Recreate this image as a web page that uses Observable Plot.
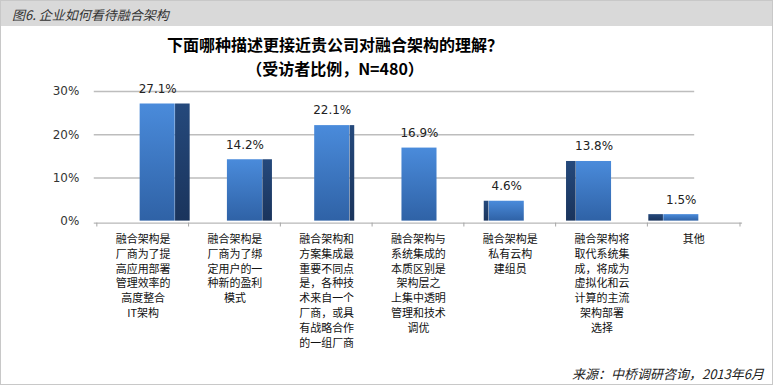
<!DOCTYPE html>
<html>
<head>
<meta charset="utf-8">
<script src="https://cdn.jsdelivr.net/npm/d3@7"></script>
<script src="https://cdn.jsdelivr.net/npm/@observablehq/plot@0.6"></script>
<style>
  html, body { margin: 0; padding: 0; background: #fff; }
  #wrap { position: relative; width: 771px; height: 383px; border: 1px solid #c8c8c8; overflow: hidden; font-family: "Noto Sans CJK SC", "Noto Sans", sans-serif; }
  #header { position: absolute; left: 0; top: 0; width: 100%; height: 25px; background: #d9d9d9; }
  #header span { position: absolute; left: 11px; top: 4px; font-size: 13px; font-style: italic; color: #333; }
  .title { position: absolute; left: 0; width: 668px; text-align: center; font-weight: bold; font-size: 16px; color: #000; line-height: 18px; }
  #caption { position: absolute; right: 8px; top: 363px; font-size: 13px; font-style: italic; color: #222; }
  #chart { position: absolute; left: 0; top: 75px; }
</style>
</head>
<body>
<div id="wrap">
  <div id="header"><span>图6. 企业如何看待融合架构</span></div>
  <div class="title" style="top:34px">下面哪种描述更接近贵公司对融合架构的理解？</div>
  <div class="title" style="top:58px">（受访者比例，N=480）</div>
  <div id="chart"></div>
  <div id="caption">来源：中桥调研咨询，2013年6月</div>
</div>
<script>
const categories = [
  "融合架构是\n厂商为了提\n高应用部署\n管理效率的\n高度整合\nIT架构",
  "融合架构是\n厂商为了绑\n定用户的一\n种新的盈利\n模式",
  "融合架构和\n方案集成最\n重要不同点\n是，各种技\n术来自一个\n厂商，或具\n有战略合作\n的一组厂商",
  "融合架构与\n系统集成的\n本质区别是\n架构层之\n上集中透明\n管理和技术\n调优",
  "融合架构是\n私有云构\n建组员",
  "融合架构将\n取代系统集\n成，将成为\n虚拟化和云\n计算的主流\n架构部署\n选择",
  "其他"
];
const values = [0.271, 0.142, 0.221, 0.169, 0.046, 0.138, 0.015];
const yTicks = [0, 0.1, 0.2, 0.3];

const data = categories.map((c, i) => ({cat: c, value: values[i], i}));

const W = 773, H = 310, ML = 93, MR = 30;
const bw = (W - ML - MR) / categories.length;
const front = 36;

const marks = [
  Plot.ruleY(yTicks.filter(t => t > 0), {stroke: "#bdbdbd", strokeWidth: 1.5, insetRight: 48}),
  Plot.ruleY([0], {stroke: "#a6a6a6", dy: 2}),
  Plot.ruleX(categories, {x: d => d, y1: 0, y2: -0.009, dx: -bw / 2, stroke: "#a6a6a6", dy: 2}),
  Plot.ruleX([categories[categories.length - 1]], {x: d => d, y1: 0, y2: -0.009, dx: bw / 2, stroke: "#a6a6a6", dy: 2}),
  Plot.axisY({ticks: yTicks, tickFormat: d3.format(".0%"), tickSize: 0, tickPadding: 15, fontSize: 12, fill: "#333", fontFamily: "DejaVu Sans", label: null}),
  Plot.text(data, {x: "cat", y: 0, text: "cat", dy: 11, lineAnchor: "top", lineHeight: 1.36, fontSize: 11, fill: "#111"})
];

data.forEach((d, i) => {
  const off = 43 - 4.5 * i;
  const side = Math.abs(3 - i) * 5;
  marks.push(Plot.barY([d], {x: "cat", y: "value", insetLeft: off, insetRight: bw - off - front, fill: "url(#frontGrad)"}));
  if (i < 3) {
    marks.push(Plot.barY([d], {x: "cat", y: "value", insetLeft: off + front - 0.5, insetRight: bw - off - front - side, fill: "url(#sideGrad)"}));
  } else if (i > 3) {
    marks.push(Plot.barY([d], {x: "cat", y: "value", insetLeft: off - side, insetRight: bw - off - 0.5, fill: "url(#sideGrad)"}));
  }
  marks.push(Plot.text([d], {x: "cat", y: "value", text: v => (v.value * 100).toFixed(1) + "%", dy: -15, dx: off + front / 2 - bw / 2, fontSize: 12, fill: "#222", fontFamily: "DejaVu Sans"}));
});

const svg = Plot.plot({
  width: W,
  height: H,
  marginLeft: ML,
  marginRight: MR,
  marginTop: 15,
  marginBottom: 165,
  x: {domain: categories, padding: 0, axis: null},
  y: {domain: [0, 0.3], axis: null},
  style: {fontFamily: "Noto Sans CJK SC", background: "transparent", overflow: "visible"},
  marks
});

const defs = d3.select(svg).insert("defs", ":first-child");
const fg = defs.append("linearGradient").attr("id", "frontGrad").attr("x1", 0).attr("y1", 0).attr("x2", 0).attr("y2", 1);
fg.append("stop").attr("offset", "0%").attr("stop-color", "#4a8bdb");
fg.append("stop").attr("offset", "100%").attr("stop-color", "#2f62a6");
const sg = defs.append("linearGradient").attr("id", "sideGrad").attr("x1", 0).attr("y1", 0).attr("x2", 0).attr("y2", 1);
sg.append("stop").attr("offset", "0%").attr("stop-color", "#25497c");
sg.append("stop").attr("offset", "100%").attr("stop-color", "#1a345c");

document.getElementById("chart").appendChild(svg);
</script>
</body>
</html>
